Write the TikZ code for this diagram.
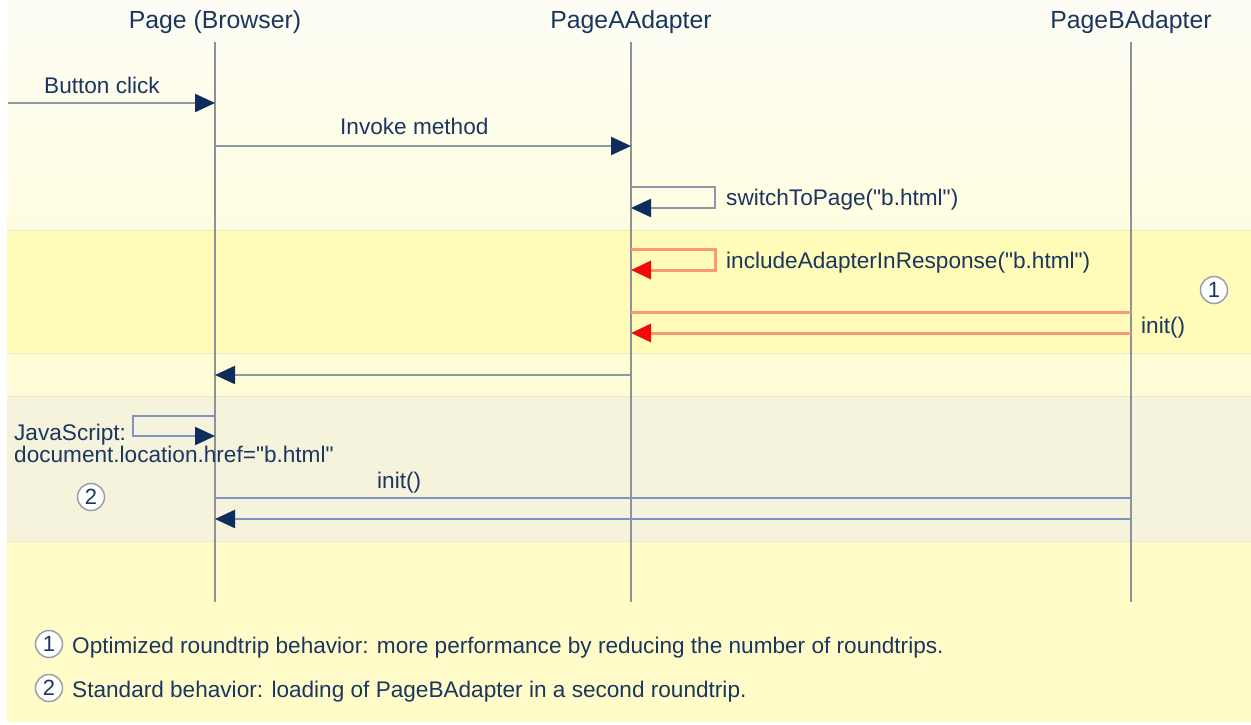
\documentclass[tikz,border=0pt]{standalone}
\usepackage{fontspec}
\setmainfont{Liberation Sans}[Ligatures=TeXOff]
\usetikzlibrary{arrows.meta}
\definecolor{txt}{HTML}{1B365F}
\definecolor{navy}{HTML}{0E2D5E}
\definecolor{life}{HTML}{8D9198}
\definecolor{msg}{HTML}{8E97A6}
\definecolor{msgb}{HTML}{8193C2}
\definecolor{msgr}{HTML}{F89A74}
\definecolor{tipr}{HTML}{F00A0A}
\definecolor{topA}{HTML}{FDFDF6}
\definecolor{topB}{HTML}{FFFDE0}
\definecolor{bandA}{HTML}{FFFBB8}
\definecolor{gapc}{HTML}{FFFDD8}
\definecolor{bandB}{HTML}{F5F3DB}
\definecolor{botc}{HTML}{FFFCC9}
\definecolor{edgec}{HTML}{ECE9C6}
\definecolor{circ}{HTML}{9AA0AA}
\tikzset{
  hdr/.style={anchor=base,inner sep=0pt,text=txt,font=\fontsize{24.8}{28}\selectfont},
  lbl/.style={anchor=base west,inner sep=0pt,text=txt,font=\fontsize{22.6}{26}\selectfont},
  lifeline/.style={draw=life,line width=2.5pt},
  msgline/.style={draw=msg,line width=2.3pt},
  msgblue/.style={draw=msgb,line width=2.3pt},
  msgred/.style={draw=msgr,line width=3pt},
  navytip/.style={-{Triangle[length=20pt,width=18pt,color=navy]}},
  redtip/.style={-{Triangle[length=20pt,width=18pt,color=tipr]}},
  num/.style={circle,draw=circ,fill=white,line width=1.5pt,minimum size=27pt,inner sep=0pt,text=txt,font=\fontsize{22}{22}\selectfont},
}
\begin{document}
\begin{tikzpicture}[x=1pt,y=-1pt]
\useasboundingbox (0,0) rectangle (1251,725);
% backgrounds
\shade[top color=topA,bottom color=topB] (7,0) rectangle (1251,230);
\fill[bandA] (7,230) rectangle (1251,353);
\fill[gapc] (7,353) rectangle (1251,396);
\fill[bandB] (7,396) rectangle (1251,541);
\fill[botc] (7,541) rectangle (1251,722);
\draw[edgec,line width=1.5pt] (7,230.5) -- (1251,230.5);
\draw[edgec,line width=1.5pt] (7,353.5) -- (1251,353.5);
\draw[edgec,line width=1.5pt] (7,396.5) -- (1251,396.5);
\draw[edgec,line width=1.5pt] (7,541.5) -- (1251,541.5);
% headers
\node[hdr] (hP) at (215,29) {Page (Browser)};
\node[hdr] (hA) at (631,29) {PageAAdapter};
\node[hdr] (hB) at (1131,29) {PageBAdapter};
% lifelines
\coordinate (P0) at (215,42); \coordinate (P1) at (215,602);
\coordinate (A0) at (631,42); \coordinate (A1) at (631,602);
\coordinate (B0) at (1131,42); \coordinate (B1) at (1131,602);
\draw[lifeline] (P0) -- (P1);
\draw[lifeline] (A0) -- (A1);
\draw[lifeline] (B0) -- (B1);
% button click
\coordinate (bcS) at (8,103); \coordinate (bcP) at (215,103);
\draw[msgline,navytip] (bcS) -- (bcP);
\node[lbl] (lbc) at (44,93) {Button click};
% invoke method
\coordinate (imP) at (215,146); \coordinate (imA) at (631,146);
\draw[msgline,navytip] (imP) -- (imA);
\node[lbl] (lim) at (340,135) {Invoke method};
% switchToPage
\coordinate (swA) at (631,187); \coordinate (swB) at (631,208);
\draw[msgline,navytip] (swA) -- ++(84,0) |- (swB);
\node[lbl] (lsw) at (726,205) {switchToPage("b.html")};
% includeAdapterInResponse
\coordinate (iaA) at (631,249); \coordinate (iaB) at (631,270);
\draw[msgred,redtip] (iaA) -- ++(84,0) |- (iaB);
\node[lbl] (lia) at (726,268) {includeAdapterInResponse("b.html")};
% init red
\coordinate (r1A) at (631,312); \coordinate (r1B) at (1131,312);
\coordinate (r2A) at (631,333); \coordinate (r2B) at (1131,333);
\draw[msgred] (r1A) -- (r1B);
\draw[msgred,redtip] (r2B) -- (r2A);
\node[lbl] (li1) at (1141,333) {init()};
\node[num] (n1) at (1214,290) {1};
% response
\coordinate (rsA) at (631,375); \coordinate (rsP) at (215,375);
\draw[msgline,navytip] (rsA) -- (rsP);
% javascript
\coordinate (jsA) at (215,416); \coordinate (jsB) at (215,436);
\draw[msgblue,navytip] (jsA) -- ++(-82,0) |- (jsB);
\node[lbl] (ljs1) at (14,440) {JavaScript:};
\node[lbl] (ljs2) at (14,462) {document.location.href="b.html"};
% init blue
\coordinate (b1P) at (215,498); \coordinate (b1B) at (1131,498);
\coordinate (b2P) at (215,519); \coordinate (b2B) at (1131,519);
\draw[msgblue] (b1P) -- (b1B);
\draw[msgblue,navytip] (b2B) -- (b2P);
\node[lbl] (li2) at (377,488) {init()};
\node[num] (n2) at (91,497) {2};
% legend
\node[num] (ln1) at (49,644) {1};
\node[lbl] (lt1) at (72,653) {Optimized roundtrip behavior: more performance by reducing the number of roundtrips.};
\node[num] (ln2) at (49,688) {2};
\node[lbl] (lt2) at (72,697) {Standard behavior: loading of PageBAdapter in a second roundtrip.};
\end{tikzpicture}
\end{document}
